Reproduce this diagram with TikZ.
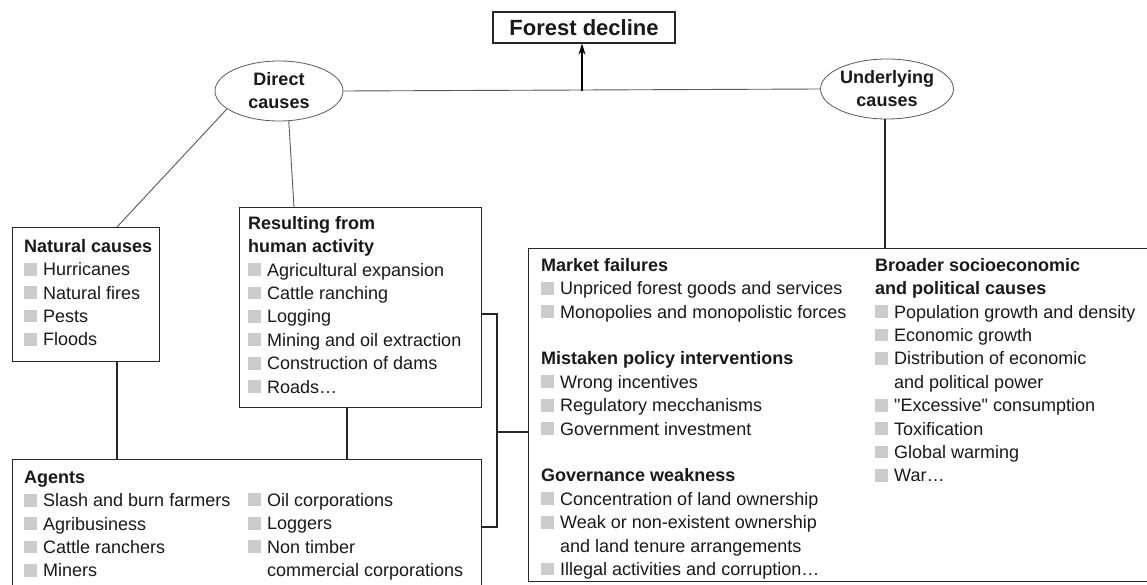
\documentclass[tikz,border=0pt]{standalone}
\usepackage{fontspec}
\setmainfont{Liberation Sans}[Ligatures=TeXOff]
\usetikzlibrary{arrows.meta,calc,shapes.geometric}
\definecolor{bulletgray}{gray}{0.8}
\definecolor{linegray}{gray}{0.35}
\definecolor{boxline}{gray}{0.15}
\definecolor{txtcol}{gray}{0.1}
\newcommand\bu{\textcolor{bulletgray}{\rule{12.7pt}{12.9pt}}\hspace{6.3pt}}
\newcommand\ind{\hspace*{19pt}}
\newcommand\fl{\rule{0pt}{14pt}}
\begin{document}
\begin{tikzpicture}[x=1pt,y=-1pt,
  boxnode/.style={draw=boxline,line width=1.1pt,rectangle,inner sep=0pt,anchor=north west},
  ovalnode/.style={draw=linegray,line width=0.8pt,ellipse,minimum width=128pt,minimum height=60pt,inner sep=0pt,align=center,text=txtcol,font=\fontsize{18}{23}\selectfont\bfseries},
  txtnode/.style={anchor=north west,inner sep=0pt,align=left,text=txtcol,font=\fontsize{18}{23.4}\selectfont},
  conn/.style={draw=linegray,line width=0.9pt},
  link/.style={draw=boxline,line width=1.1pt}]
\clip (0,0) rectangle (1147,585);
\fill[white] (0,0) rectangle (1147,585);

% top box
\node[boxnode,anchor=center,minimum width=182pt,minimum height=31pt,font=\fontsize{22}{26}\selectfont\bfseries,text=txtcol] (fd) at (584,27.5) {Forest decline};

% ellipses
\node[ovalnode] (dir) at (279,91) {Direct\\causes};
\node[ovalnode] (und) at (887,89) {Underlying\\causes};

% boxes
\node[boxnode,minimum width=147pt,minimum height=134pt] (nat) at (12,227) {};
\node[boxnode,minimum width=242pt,minimum height=200pt] (res) at (239,207) {};
\node[boxnode,minimum width=469pt,minimum height=140pt] (ag) at (12,459) {};
\node[boxnode,minimum width=640pt,minimum height=333pt] (big) at (528,248) {};

% texts
\node[txtnode] (natT) at (24,238) {\fl\textbf{Natural causes}\\
\bu Hurricanes\\ \bu Natural fires\\ \bu Pests\\ \bu Floods};

\node[txtnode] (resT) at (248,215) {\fl\textbf{Resulting from}\\ \textbf{human activity}\\
\bu Agricultural expansion\\ \bu Cattle ranching\\ \bu Logging\\
\bu Mining and oil extraction\\ \bu Construction of dams\\ \bu Roads\dots};

\node[txtnode] (agL) at (24,469) {\fl\textbf{Agents}\\
\bu Slash and burn farmers\\ \bu Agribusiness\\ \bu Cattle ranchers\\ \bu Miners};
\node[txtnode] (agR) at (248,492) {\fl\bu Oil corporations\\ \bu Loggers\\ \bu Non timber\\
\ind commercial corporations};

\node[txtnode] (bigL) at (541,257) {\fl\textbf{Market failures}\\
\bu Unpriced forest goods and services\\
\bu Monopolies and monopolistic forces\\ \mbox{}\\
\textbf{Mistaken policy interventions}\\
\bu Wrong incentives\\ \bu Regulatory mecchanisms\\ \bu Government investment\\ \mbox{}\\
\textbf{Governance weakness}\\
\bu Concentration of land ownership\\
\bu Weak or non-existent ownership\\
\ind and land tenure arrangements\\
\bu Illegal activities and corruption\dots};

\node[txtnode] (bigR) at (875,257) {\fl\textbf{Broader socioeconomic}\\
\textbf{and political causes}\\
\bu Population growth and density\\ \bu Economic growth\\
\bu Distribution of economic\\ \ind and political power\\
\bu "Excessive" consumption\\ \bu Toxification\\ \bu Global warming\\ \bu War\dots};

% connectors
\coordinate (natTop) at ($(nat.north west)+(105,0)$);
\coordinate (resTop) at ($(res.north west)+(55,0)$);
\coordinate (natBot) at ($(nat.south west)+(105,0)$);
\coordinate (resBot) at ($(res.south west)+(108,0)$);
\coordinate (agA) at ($(ag.north west)+(105,0)$);
\coordinate (agB) at ($(ag.north west)+(335,0)$);
\coordinate (arrowBase) at (582,91);
\coordinate (undBot) at (885,119);

\draw[conn] (dir.east) -- (und.west);
\draw[draw=black,line width=1.1pt,-{Stealth[length=11pt,width=7pt]}] (arrowBase) -- (arrowBase |- fd.south);
\draw[conn] (dir.199) -- (natTop);
\draw[conn] (dir.288) -- (resTop);
\draw[link] (undBot) -- (undBot |- big.north);
\draw[link] (natBot) -- (agA);
\draw[link] (resBot) -- (agB);

\coordinate (resR) at ($(res.north east)+(0,107)$);
\coordinate (agRt) at ($(ag.north east)+(0,68)$);
\coordinate (bk) at (497,432);
\coordinate (bigL1) at (big.west |- bk);
\draw[link] (resR) -| (bk) |- (agRt);
\draw[link] (bk) -- (bigL1);
\end{tikzpicture}
\end{document}
